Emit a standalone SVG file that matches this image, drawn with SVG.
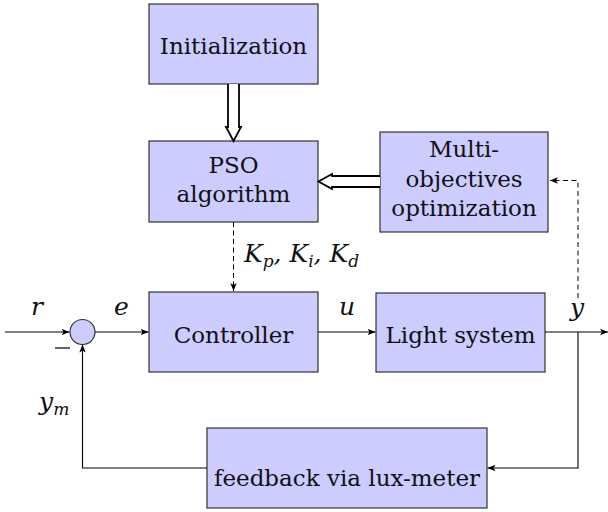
<svg xmlns="http://www.w3.org/2000/svg" width="608" height="512" viewBox="0 0 608 512">
  <defs>
    <marker id="tip" viewBox="0 0 10 10" refX="10" refY="5" markerWidth="8" markerHeight="8" markerUnits="userSpaceOnUse" orient="auto">
      <path d="M0,1 L10,5 L0,9 L2.5,5 Z" fill="#000"/>
    </marker>
  </defs>
  <style>
    .box { fill: #ccccff; stroke: #333; stroke-width: 1.2; }
    text { font-family: 'DejaVu Serif', 'Liberation Serif', 'Times New Roman', serif; }
    .lbl { font-size: 23px; fill: #111; text-anchor: middle; }
    .math { font-style: italic; font-size: 25px; fill: #111; }
    .sub { font-size: 17px; }
    .wire { fill: none; stroke: #000; stroke-width: 1.1; }
    .dash { fill: none; stroke: #000; stroke-width: 1; stroke-dasharray: 5 3.5; }
    .dbl { fill: #fff; stroke: #000; stroke-width: 1.8; stroke-linejoin: miter; }
  </style>

  <!-- blocks -->
  <g id="init">
    <rect class="box" x="149" y="4" width="169" height="80"/>
    <text class="lbl" x="233.5" y="54">Initialization</text>
  </g>
  <g id="pso">
    <rect class="box" x="149" y="141" width="169" height="81"/>
    <text class="lbl" x="233.5" y="173">PSO</text>
    <text class="lbl" x="233.5" y="202">algorithm</text>
  </g>
  <g id="multi">
    <rect class="box" x="380" y="132" width="168" height="100"/>
    <text class="lbl" x="464" y="157">Multi-</text>
    <text class="lbl" x="464" y="187">objectives</text>
    <text class="lbl" x="464" y="216">optimization</text>
  </g>
  <g id="controller">
    <rect class="box" x="149" y="292" width="169" height="80"/>
    <text class="lbl" x="233.5" y="343">Controller</text>
  </g>
  <g id="plant">
    <rect class="box" x="376" y="293" width="169" height="79"/>
    <text class="lbl" x="460.5" y="343">Light system</text>
  </g>
  <g id="sensor">
    <rect class="box" x="207" y="428" width="280" height="80"/>
    <text class="lbl" x="347" y="486">feedback via lux-meter</text>
  </g>
  <g id="sum">
    <circle class="box" cx="82.5" cy="332" r="12.5"/>
  </g>

  <!-- connectors -->
  <g id="connectors">
    <!-- hollow double arrows -->
    <path class="dbl" d="M228,84 V127 L226,127 L233.5,141 L241,127 L239,127 V84"/>
    <path class="dbl" d="M380,176 H332 V174 L318.5,181.5 L332,189 V187 H380"/>

    <!-- dashed tuning paths -->
    <path class="dash" d="M233.5,222 V291" marker-end="url(#tip)"/>
    <path class="dash" d="M578,298 V180.5 H550" marker-end="url(#tip)"/>

    <!-- main loop -->
    <path class="wire" d="M5,332 H69.5" marker-end="url(#tip)"/>
    <path class="wire" d="M95,332 H148.5" marker-end="url(#tip)"/>
    <path class="wire" d="M318,332 H375.5" marker-end="url(#tip)"/>
    <path class="wire" d="M545,332 H608" marker-end="url(#tip)"/>
    <path class="wire" d="M578,332 V468 H487.5" marker-end="url(#tip)"/>
    <path class="wire" d="M207,468 H82.5 V344.5" marker-end="url(#tip)"/>
    <line x1="55" y1="348" x2="70" y2="348" stroke="#000" stroke-width="1.2"/>

    <!-- signal labels -->
    <text class="math" x="31" y="315">r</text>
    <text class="math" x="114" y="315">e</text>
    <text class="math" x="339" y="315">u</text>
    <text class="math" x="570" y="316">y</text>
    <text class="math" x="39" y="410">y<tspan class="sub" dy="5">m</tspan></text>
    <text class="math" x="244" y="262">K<tspan class="sub" dy="5">p</tspan><tspan dy="-5">, K</tspan><tspan class="sub" dy="5">i</tspan><tspan dy="-5">, K</tspan><tspan class="sub" dy="5">d</tspan></text>
  </g>
</svg>
